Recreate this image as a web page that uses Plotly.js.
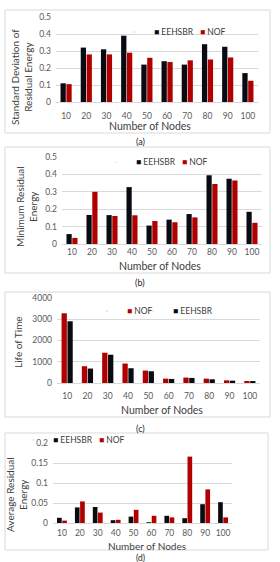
<!DOCTYPE html>
<html>
<head>
<meta charset="utf-8">
<script src="https://cdn.plot.ly/plotly-3.0.1.min.js"></script>
<style>
  html, body { margin: 0; padding: 0; background: #ffffff; }
  #chart { width: 280px; height: 562px; }
</style>
</head>
<body>
<div id="chart"></div>
<script>
// ---------- data ----------
const nodes = ["10", "20", "30", "40", "50", "60", "70", "80", "90", "100"];

// (a) Standard Deviation of Residual Energy
const stdEEHSBR = [0.11, 0.32, 0.31, 0.39, 0.22, 0.24, 0.22, 0.34, 0.325, 0.17];
const stdNOF    = [0.105, 0.28, 0.28, 0.29, 0.26, 0.235, 0.245, 0.25, 0.262, 0.125];

// (b) Minimum Residual Energy
const minEEHSBR = [0.057, 0.167, 0.166, 0.327, 0.106, 0.14, 0.172, 0.395, 0.375, 0.185];
const minNOF    = [0.035, 0.30, 0.161, 0.165, 0.132, 0.125, 0.153, 0.345, 0.365, 0.122];

// (c) Life of Time
const lifeNOF    = [3280, 790, 1425, 915, 585, 205, 255, 205, 125, 95];
const lifeEEHSBR = [2905, 680, 1330, 695, 553, 190, 238, 175, 110, 92];

// (d) Average Residual Energy
const avgEEHSBR = [0.013, 0.039, 0.040, 0.007, 0.016, 0.002, 0.018, 0.012, 0.047, 0.052];
const avgNOF    = [0.006, 0.054, 0.026, 0.008, 0.033, 0.018, 0.014, 0.166, 0.084, 0.014];

const seriesNames = ["EEHSBR", "NOF"];
const panelLabels = ["(a)", "(b)", "(c)", "(d)"];
const yTitles = ["Standard Deviation of<br>Residual Energy", "Minimum Residual<br>Energy", "Life of Time", "Average Residual<br>Energy"];
const xTitle = "Number of Nodes";

// ---------- styling ----------
const W = 280, H = 562;
const BLACK = "#0a0a12", RED = "#b00000";
const FONT = "Lato, 'Open Sans', sans-serif";
const fx = x => x / W;
const fy = y => 1 - y / H;

// pixel geometry of each panel: plot area, frame box, label positions
const P = [
  {plot:[56,258,17,102], box:[5,270,10,133], lab:142, yt:[21,77],  xt:[150,126], xs:10.5, leg:[154,32], so:6, lf:9},
  {plot:[62,262,157,244], box:[5,270,147,273], lab:282, yt:[26,207], xt:[160,266], xs:10.5, leg:[136,162], so:0, lf:9},
  {plot:[57,260,298,383], box:[5,270,292,417], lab:428, yt:[18,342], xt:[162,410], xs:10.5, leg:[127,311], so:5, lf:9},
  {plot:[53,232,443,523], box:[5,268,433,550], lab:557.5, yt:[16,495], xt:[147,545.5], xs:10, leg:[53,440], so:2, lf:8.5}
];

const yRanges = [[0,0.5],[0,0.5],[0,4000],[0,0.2]];
const yDticks = [0.1, 0.1, 1000, 0.05];

function bar(x, y, name, color, i) {
  const ax = i === 0 ? "" : String(i + 1);
  return {type:"bar", x:x, y:y, name:name, marker:{color:color},
          xaxis:"x"+ax, yaxis:"y"+ax, showlegend:false, hoverinfo:"x+y+name"};
}
function legItem(name, color, i, last) {
  const ax = i === 0 ? "" : String(i + 1);
  const t = {type:"scatter", mode:"markers", x:[null], y:[null], xaxis:"x"+ax, yaxis:"y"+ax,
          name:'<span style="color:'+color+'">■</span> ' + name,
          marker:{opacity:0, size:1}, legend: i === 0 ? "legend" : "legend"+(i+1), hoverinfo:"skip"};
  if (last) t.legendwidth = 45;
  return t;
}

const traces = [
  bar(nodes, stdEEHSBR, seriesNames[0], BLACK, 0),
  bar(nodes, stdNOF, seriesNames[1], RED, 0),
  legItem(seriesNames[0], BLACK, 0, false), legItem(seriesNames[1], RED, 0, true),
  bar(nodes, minEEHSBR, seriesNames[0], BLACK, 1),
  bar(nodes, minNOF, seriesNames[1], RED, 1),
  legItem(seriesNames[0], BLACK, 1, false), legItem(seriesNames[1], RED, 1, true),
  bar(nodes, lifeNOF, seriesNames[1], RED, 2),
  bar(nodes, lifeEEHSBR, seriesNames[0], BLACK, 2),
  legItem(seriesNames[1], RED, 2, false), legItem(seriesNames[0], BLACK, 2, true),
  bar(nodes, avgEEHSBR, seriesNames[0], BLACK, 3),
  bar(nodes, avgNOF, seriesNames[1], RED, 3),
  legItem(seriesNames[0], BLACK, 3, false), legItem(seriesNames[1], RED, 3, true)
];

const layout = {
  width: W, height: H,
  margin: {l:0, r:0, t:0, b:0},
  paper_bgcolor: "#ffffff", plot_bgcolor: "#ffffff",
  font: {family: FONT, size: 8.5, color: "#595959"},
  barmode: "group", bargap: 0.42, bargroupgap: 0.1,
  shapes: [], annotations: []
};

P.forEach((p, i) => {
  const ax = i === 0 ? "" : String(i + 1);
  layout["xaxis" + ax] = {
    domain: [fx(p.plot[0]), fx(p.plot[1])], anchor: "y" + ax,
    type: "category", categoryorder: "array", categoryarray: nodes,
    range: [-0.5, 9.5], fixedrange: true,
    showgrid: false, zeroline: false, showline: true, linecolor: "#d9d9d9", linewidth: 1,
    ticks: "", ticklabelstandoff: p.so,
    tickfont: {size: 8.5, color: "#595959", family: FONT}
  };
  layout["yaxis" + ax] = {
    domain: [fy(p.plot[3]), fy(p.plot[2])], anchor: "x" + ax,
    range: yRanges[i], dtick: yDticks[i], tick0: 0, fixedrange: true,
    showgrid: true, gridcolor: "#d9d9d9", gridwidth: 1, zeroline: false, showline: false,
    ticks: "", ticklabelstandoff: 4,
    tickfont: {size: 8.5, color: "#595959", family: FONT}
  };
  layout[i === 0 ? "legend" : "legend" + (i + 1)] = {
    orientation: "h", x: fx(p.leg[0] - 40), y: fy(p.leg[1]), xanchor: "left", yanchor: "middle",
    bgcolor: "rgba(0,0,0,0)", borderwidth: 0,
    entrywidth: 1, entrywidthmode: "pixels",
    font: {size: 8.5, color: "#404040", family: FONT},
    traceorder: "normal"
  };
  layout.shapes.push({type: "rect", xref: "paper", yref: "paper",
    x0: fx(p.box[0]), x1: fx(p.box[1]), y0: fy(p.box[3]), y1: fy(p.box[2]),
    line: {color: "#d9d9d9", width: 1}, fillcolor: "rgba(0,0,0,0)", layer: "below"});
  layout.annotations.push({xref: "paper", yref: "paper", x: fx(p.yt[0]), y: fy(p.yt[1]),
    text: yTitles[i], textangle: -90, showarrow: false, xanchor: "center", yanchor: "middle",
    font: {size: 10, color: "#404040", family: FONT}});
  layout.annotations.push({xref: "paper", yref: "paper", x: fx(p.xt[0]), y: fy(p.xt[1]),
    text: xTitle, showarrow: false, xanchor: "center", yanchor: "middle",
    borderpad: 0, font: {size: p.xs, color: "#404040", family: FONT}});
  layout.annotations.push({xref: "paper", yref: "paper", x: fx(140), y: fy(p.lab),
    text: panelLabels[i], showarrow: false, xanchor: "center", yanchor: "middle",
    borderpad: 0, font: {size: p.lf, color: "#262626", family: FONT}});
});

Plotly.newPlot("chart", traces, layout, {displayModeBar: false, staticPlot: true});
</script>
</body>
</html>
